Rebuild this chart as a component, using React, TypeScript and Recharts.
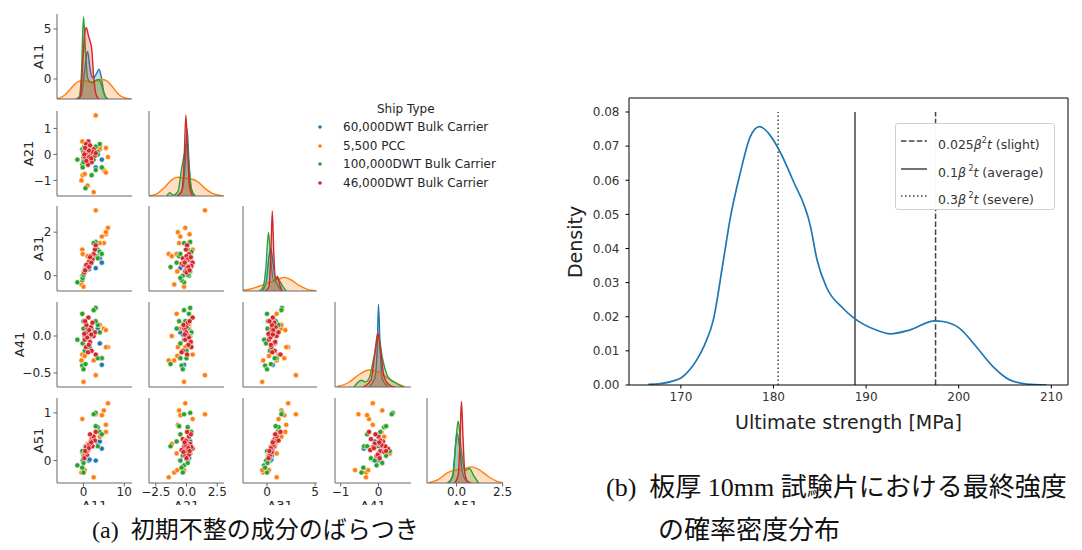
import React from "react";
import { ComposedChart, ScatterChart, LineChart, Scatter, Area, Line, XAxis, YAxis, ReferenceLine } from "recharts";

const FONT = "DejaVu Sans";
const TEXT = "#262626";
const SPINE = "#666";

const shipTypes = ["60,000DWT Bulk Carrier", "5,500 PCC", "100,000DWT Bulk Carrier", "46,000DWT Bulk Carrier"];
const shipColors = ["#1f77b4", "#ff7f0e", "#2ca02c", "#d62728"];
const components = ["A11", "A21", "A31", "A41", "A51"];

// one row per ship: A11, A21, A31, A41, A51
const bulk60k = [
  [1.0, 0.2, 0.4, 0.0, 0.05], [1.3, 0.1, 0.3, -0.02, 0.0], [0.8, -0.3, 0.5, 0.02, 0.1],
  [3.5, 0.2, 0.9, 0.1, 0.35], [4.0, 0.3, 0.8, -0.1, 0.4], [4.5, -0.2, 0.6, -0.39, 0.25],
  [3.0, -0.5, 0.35, 0.05, 0.0], [2.0, 0.1, 0.7, 0.0, 0.3], [1.5, 0.05, 0.45, -0.15, 0.02],
];
const pcc5500 = [
  [3.0, 1.5, 3.0, -0.53, 0.97], [6.0, -0.1, 2.2, -0.15, 1.2], [5.0, -0.6, 1.5, 0.1, 1.05],
  [-0.3, 0.5, 1.2, -0.25, 0.87], [5.5, 0.25, 1.9, 0.08, 0.6], [4.5, -0.5, 1.8, -0.3, 0.95],
  [-0.5, -1.0, -0.4, -0.33, -0.25], [2.5, -1.45, 1.0, -0.33, -0.35], [0.0, -0.2, -0.5, -0.62, -0.2],
  [5.5, -0.7, 2.0, -0.15, 0.75], [-0.2, -0.8, 1.0, 0.3, 0.15], [0.3, -0.75, 0.2, -0.27, -0.2],
  [4.0, 0.2, 1.5, 0.15, 0.5], [1.0, -1.2, 0.9, 0.0, 0.35],
];
const bulk100k = [
  [-1.5, -0.2, -0.3, -0.05, -0.1], [-0.3, 0.2, 0.0, 0.3, 0.2], [0.0, -0.1, 0.1, 0.2, 0.1],
  [3.0, 0.3, 1.55, 0.38, 1.0], [2.5, -0.2, 1.5, 0.35, 0.97], [-0.3, -0.4, -0.2, -0.4, -0.15],
  [0.0, -0.3, 0.0, -0.45, -0.25], [3.5, 0.1, 1.2, 0.15, 0.7], [4.0, 0.4, 1.1, 0.05, 0.6],
  [3.0, -0.6, 0.9, 0.2, 0.72], [4.5, -0.5, 1.0, -0.3, 0.55], [0.3, 0.0, 0.3, -0.2, 0.05],
  [2.0, -0.8, 0.6, 0.1, 0.4], [0.2, 0.3, 0.2, 0.0, 0.15], [-0.2, -0.5, -0.1, -0.1, 0.0],
  [0.5, -1.3, 0.4, -0.38, 0.3], [3.5, 0.0, 0.8, -0.3, 0.3], [0.0, 0.1, 0.05, 0.1, -0.05],
];
const bulk46k = [
  [0.5, 0.1, 0.3, 0.0, 0.15], [1.0, -0.2, 0.5, 0.1, 0.3], [1.5, 0.3, 0.7, -0.1, 0.35],
  [0.8, 0.0, 0.4, 0.05, 0.2], [2.0, -0.3, 0.8, -0.2, 0.45], [1.2, 0.5, 0.6, 0.25, 0.25],
  [0.3, -0.1, 0.2, -0.05, 0.1], [2.5, 0.2, 1.0, 0.0, 0.5], [1.8, 0.0, 0.9, 0.12, 0.4],
  [0.6, 0.4, 0.45, -0.15, 0.28], [1.1, -0.4, 0.55, -0.22, 0.22], [2.2, 0.1, 0.75, 0.18, 0.3],
  [0.9, 0.2, 0.35, -0.02, 0.12], [1.4, -0.1, 0.65, 0.08, 0.33], [0.2, 0.0, 0.15, 0.03, 0.05],
  [1.6, 0.35, 0.85, -0.08, 0.55], [2.8, -0.05, 1.2, 0.05, 0.42], [0.7, -0.25, 0.5, 0.15, 0.18],
  [1.3, 0.15, 0.4, -0.12, 0.26], [1.9, -0.15, 0.6, 0.02, 0.38], [0.4, 0.25, 0.25, 0.2, 0.2],
  [3.0, 0.05, 1.4, -0.25, 0.6],
];
const shipPoints = [bulk60k, pcc5500, bulk100k, bulk46k];

// diagonal KDEs: [value, density as share of panel height], order blue, orange, green, red
const kdeA11 = [
  [[-1.2, 0], [-0.5, 0.05], [0.3, 0.35], [1.0, 0.56], [1.5, 0.4], [2.0, 0.27], [2.5, 0.25], [3.2, 0.3], [3.8, 0.35], [4.4, 0.25], [5.0, 0.08], [5.8, 0]],
  [[-6.5, 0.005], [-6, 0.01], [-4.5, 0.05], [-3, 0.13], [-1.5, 0.2], [0, 0.22], [1.5, 0.2], [3, 0.21], [4.5, 0.23], [5.5, 0.22], [7, 0.15], [8.5, 0.06], [10, 0.015], [11.5, 0]],
  [[-2, 0], [-1.1, 0.02], [-0.5, 0.3], [0, 0.965], [0.5, 0.55], [1.0, 0.25], [1.6, 0.2], [2.2, 0.19], [3.0, 0.22], [3.8, 0.23], [4.5, 0.15], [5.2, 0.04], [6, 0]],
  [[-1.5, 0], [-0.8, 0.03], [-0.2, 0.4], [0.3, 0.78], [0.7, 0.84], [1.2, 0.75], [1.6, 0.68], [2.0, 0.6], [2.5, 0.26], [3.0, 0.07], [3.7, 0]],
];
const kdeA21 = [
  [[-0.7, 0], [-0.3, 0.1], [-0.1, 0.4], [0.05, 0.79], [0.2, 0.4], [0.4, 0.08], [0.7, 0]],
  [[-3.0, 0.005], [-2.5, 0.02], [-1.8, 0.1], [-1.2, 0.19], [-0.7, 0.22], [-0.2, 0.21], [0.4, 0.2], [0.9, 0.17], [1.5, 0.09], [2.1, 0.03], [2.8, 0.005], [3.0, 0]],
  [[-1.6, 0], [-1.35, 0.04], [-1.1, 0.01], [-0.7, 0.05], [-0.4, 0.32], [-0.1, 0.55], [0.05, 0.65], [0.2, 0.35], [0.4, 0.08], [0.7, 0]],
  [[-0.8, 0], [-0.4, 0.05], [-0.2, 0.4], [-0.05, 0.95], [0.1, 0.5], [0.25, 0.1], [0.5, 0]],
];
const kdeA31 = [
  [[-0.5, 0], [-0.1, 0.1], [0.2, 0.4], [0.4, 0.5], [0.6, 0.35], [0.9, 0.12], [1.2, 0.05], [1.6, 0]],
  [[-2.5, 0.005], [-1.5, 0.03], [-0.5, 0.07], [0.5, 0.11], [1.2, 0.14], [1.8, 0.16], [2.5, 0.13], [3.3, 0.07], [4.2, 0.02], [5.0, 0.003]],
  [[-0.8, 0], [-0.4, 0.05], [-0.1, 0.3], [0.15, 0.69], [0.4, 0.35], [0.7, 0.12], [1.0, 0.15], [1.3, 0.12], [1.6, 0.06], [2.0, 0]],
  [[-0.2, 0], [0.2, 0.05], [0.4, 0.45], [0.55, 0.94], [0.7, 0.45], [0.9, 0.15], [1.1, 0.17], [1.3, 0.08], [1.6, 0]],
];
const kdeA41 = [
  [[-0.25, 0], [-0.1, 0.1], [-0.03, 0.5], [0.0, 0.97], [0.04, 0.5], [0.1, 0.1], [0.25, 0]],
  [[-1.1, 0.005], [-0.8, 0.05], [-0.5, 0.15], [-0.25, 0.2], [0.0, 0.18], [0.2, 0.12], [0.45, 0.05], [0.7, 0.005]],
  [[-0.65, 0], [-0.45, 0.08], [-0.35, 0.06], [-0.25, 0.1], [-0.12, 0.35], [0.0, 0.6], [0.1, 0.35], [0.25, 0.12], [0.45, 0.05], [0.65, 0]],
  [[-0.4, 0], [-0.2, 0.08], [-0.08, 0.45], [-0.02, 0.64], [0.05, 0.45], [0.15, 0.12], [0.3, 0.02], [0.45, 0]],
];
const kdeA51 = [
  [[-0.4, 0], [-0.2, 0.1], [-0.05, 0.45], [0.02, 0.59], [0.15, 0.45], [0.3, 0.15], [0.45, 0.05], [0.7, 0]],
  [[-1.5, 0.005], [-1.0, 0.04], [-0.5, 0.12], [-0.1, 0.15], [0.3, 0.16], [0.8, 0.19], [1.2, 0.16], [1.7, 0.08], [2.2, 0.02], [2.5, 0.005]],
  [[-0.5, 0], [-0.2, 0.08], [-0.05, 0.45], [0.09, 0.73], [0.25, 0.4], [0.45, 0.15], [0.7, 0.17], [0.95, 0.08], [1.2, 0]],
  [[-0.1, 0], [0.1, 0.1], [0.2, 0.6], [0.27, 0.96], [0.35, 0.55], [0.45, 0.12], [0.6, 0.02], [0.8, 0]],
];
const diagKdes = [kdeA11, kdeA21, kdeA31, kdeA41, kdeA51];

const colDomains = [[-6.5, 11.9], [-3.05, 3.05], [-2.5, 5.2], [-1.15, 0.86], [-1.6, 2.52]];
const rowDomains = [[-2.0, 6.5], [-1.6, 1.67], [-0.7, 3.2], [-0.69, 0.46], [-0.47, 1.31]];
const colTicks = [[0, 10], [-2.5, 0, 2.5], [0, 5], [-1, 0], [0, 2.5]];
const rowTicks = [[0, 5], [-1, 0, 1], [0, 2], [-0.5, 0], [0, 1]];
const colDecimals = [0, 1, 0, 0, 1];
const rowDecimals = [0, 0, 0, 1, 0];

// right chart: ultimate strength density
const strengthMPa = [166.5, 167.8, 169.2, 170.1, 171.0, 171.7, 172.6, 173.5, 174.6, 175.3, 176.4, 177.5, 178.5, 179.6, 180.4, 182.1, 184.0, 184.7, 185.7, 187.5, 188.7, 191.1, 192.6, 194.7, 197.4, 198.3, 200.1, 201.9, 203.7, 205.5, 207.3, 209.5];
const strengthDensity = [0.0002, 0.0004, 0.0012, 0.0022, 0.0046, 0.0073, 0.012, 0.019, 0.0367, 0.0484, 0.062, 0.0728, 0.0757, 0.0733, 0.0699, 0.06, 0.0464, 0.0367, 0.0288, 0.0225, 0.0196, 0.0161, 0.015, 0.0161, 0.0188, 0.0186, 0.0166, 0.0112, 0.0054, 0.0015, 0.0003, 0.0];
const strengthTicks = [170, 180, 190, 200, 210];
const densityTicks = [0, 0.01, 0.02, 0.03, 0.04, 0.05, 0.06, 0.07, 0.08];
const damageCoef = ["0.025", "0.1", "0.3"];
const damageName = ["slight", "average", "severe"];
const damageStrength = [197.5, 188.8, 180.5];
const damageDash = ["5.5 2.4", undefined, "1.5 2.5"];
const damageTop = 0.08;

const COL_LEFT = [57, 149, 242.5, 334.5, 427];
const COL_W = [75, 75, 74, 76, 76];
const ROW_TOP = [14, 110.5, 205.5, 301.5, 397.5];
const ROW_H = 85;
const GUTTER = 52;
const RIGHT_PAD = 14;
const ROW_LABEL_X = [38, 28, 38, 19, 38];

const fmt = (v: number, d: number) => (v < 0 ? "\u2212" : "") + Math.abs(v).toFixed(d);
const pairXY = (pts: number[][], i: number, j: number) => pts.map((p) => ({ x: p[i], y: p[j] }));
const kdeRows = (pairs: number[][]) => pairs.map(([x, d]) => ({ x, d }));

function PairPanel({ r, c }: { r: number; c: number }) {
  const w = GUTTER + COL_W[c] + RIGHT_PAD;
  const h = ROW_H + 30;
  const bottomRow = r === 4;
  const firstCol = c === 0;
  const margin = { top: 0, right: RIGHT_PAD, bottom: 0, left: 0 };
  const tickStyle = { fill: TEXT, fontSize: 12, fontFamily: FONT };
  const xAxis = (
    <XAxis
      type="number" dataKey="x" domain={colDomains[c]} ticks={colTicks[c]} allowDataOverflow
      height={30} tickSize={3.5} tickMargin={1} stroke={SPINE}
      tick={bottomRow ? tickStyle : false}
      tickFormatter={(v: number) => fmt(v, colDecimals[c])}
      label={bottomRow ? () => (
        <text x={GUTTER + COL_W[c] / 2} y={ROW_H + 22.5} textAnchor="middle" dominantBaseline="central"
          fontSize={13} fontFamily={FONT} fill={TEXT}>{components[c]}</text>
      ) : undefined}
    />
  );
  const yAxis = (
    <YAxis
      yAxisId="v" type="number" dataKey="y" domain={rowDomains[r]} ticks={rowTicks[r]} allowDataOverflow
      width={GUTTER} tickSize={3.5} tickMargin={2} stroke={SPINE}
      tick={firstCol ? tickStyle : false}
      tickFormatter={(v: number) => fmt(v, rowDecimals[r])}
      label={firstCol ? () => {
        const x = ROW_LABEL_X[r] - (COL_LEFT[0] - GUTTER);
        const y = ROW_H / 2;
        return (
          <text x={x} y={y} transform={`rotate(-90, ${x}, ${y})`} textAnchor="middle" dominantBaseline="central"
            fontSize={13} fontFamily={FONT} fill={TEXT}>{components[r]}</text>
        );
      } : undefined}
    />
  );
  return (
    <div style={{ position: "absolute", left: COL_LEFT[c] - GUTTER, top: ROW_TOP[r], width: w, height: ROW_H + 22.5, overflow: "hidden" }}>
      {r === c ? (
        <ComposedChart width={w} height={h} margin={margin}>
          {xAxis}
          {yAxis}
          <YAxis yAxisId="d" orientation="right" type="number" domain={[0, 1]} allowDataOverflow hide />
          {diagKdes[c].map((pairs, k) => (
            <Area key={k} yAxisId="d" data={kdeRows(pairs)} dataKey="d" type="monotone"
              stroke={shipColors[k]} strokeWidth={1.4} fill={shipColors[k]} fillOpacity={0.25}
              dot={false} activeDot={false} isAnimationActive={false} />
          ))}
        </ComposedChart>
      ) : (
        <ScatterChart width={w} height={h} margin={margin}>
          {xAxis}
          {yAxis}
          {shipPoints.map((pts, k) => (
            <Scatter key={k} yAxisId="v" data={pairXY(pts, c, r)} fill={shipColors[k]} isAnimationActive={false}
              shape={(p: any) => <circle cx={p.cx} cy={p.cy} r={2.6} fill={shipColors[k]} stroke="#fff" strokeWidth={0.6} />} />
          ))}
        </ScatterChart>
      )}
    </div>
  );
}

function StrengthChart() {
  const curve = strengthMPa.map((x, i) => ({ x, d: strengthDensity[i] }));
  const xMax = 211.8;
  const yMax = 0.0841;
  return (
    <div style={{ position: "absolute", left: 560, top: 80 }}>
      <LineChart width={522} height={370} margin={{ top: 18, right: 14, left: 0, bottom: 0 }}>
        <XAxis
          type="number" dataKey="x" domain={[164.4, xMax]} ticks={strengthTicks} allowDataOverflow
          height={65} tickSize={3.5} tickMargin={4} stroke="#000"
          tick={{ fill: "#333", fontSize: 12, fontFamily: FONT }}
          label={() => (
            <text x={69 + 439 / 2} y={342} textAnchor="middle" dominantBaseline="central"
              fontSize={19} fontFamily={FONT} fill="#222">Ultimate strength [MPa]</text>
          )}
        />
        <YAxis
          type="number" domain={[0, yMax]} ticks={densityTicks} allowDataOverflow
          width={69} tickSize={3.5} tickMargin={6} stroke="#000"
          tick={{ fill: "#333", fontSize: 12, fontFamily: FONT }}
          tickFormatter={(v: number) => v.toFixed(2)}
          label={() => (
            <text x={15} y={162} transform="rotate(-90, 15, 162)" textAnchor="middle" dominantBaseline="central"
              fontSize={19} fontFamily={FONT} fill="#222">Density</text>
          )}
        />
        <ReferenceLine y={yMax} stroke="#000" strokeWidth={1} />
        <ReferenceLine x={xMax} stroke="#000" strokeWidth={1} />
        {damageStrength.map((s, i) => (
          <ReferenceLine key={i} segment={[{ x: s, y: 0 }, { x: s, y: damageTop }]}
            stroke="#444" strokeWidth={1.5} strokeDasharray={damageDash[i]} />
        ))}
        <Line data={curve} dataKey="d" type="monotone" stroke="#1f77b4" strokeWidth={1.7}
          dot={false} activeDot={false} isAnimationActive={false} />
      </LineChart>
    </div>
  );
}

function ShipLegend() {
  return (
    <div style={{ position: "absolute", left: 300, top: 98, fontFamily: FONT, fontSize: 12, color: TEXT }}>
      <div style={{ position: "absolute", left: 77, top: 0, whiteSpace: "nowrap", lineHeight: "22px" }}>Ship Type</div>
      {shipTypes.map((name, k) => (
        <div key={k} style={{ position: "absolute", left: 0, top: 19 + k * 18.7, whiteSpace: "nowrap", lineHeight: "20px" }}>
          <svg width={40} height={20} style={{ verticalAlign: "top" }}>
            <circle cx={20} cy={10} r={1.8} fill={shipColors[k]} />
          </svg>
          <span style={{ position: "absolute", left: 43, top: 0 }}>{name}</span>
        </div>
      ))}
    </div>
  );
}

function DamageLegend() {
  return (
    <div style={{
      position: "absolute", left: 895, top: 123, width: 160, height: 87, boxSizing: "border-box",
      border: "1px solid #d0d0d0", borderRadius: 3, background: "rgba(255,255,255,0.95)",
      fontFamily: FONT, fontSize: 12.5, color: "#333",
    }}>
      {damageCoef.map((coef, i) => (
        <div key={i} style={{ position: "absolute", left: 4, top: 7 + i * 27.5, height: 20, whiteSpace: "nowrap", lineHeight: "20px" }}>
          <svg width={28} height={20} style={{ position: "absolute", left: 0, top: 0 }}>
            <line x1={1} y1={10} x2={27} y2={10} stroke="#444" strokeWidth={1.5} strokeDasharray={damageDash[i]} />
          </svg>
          <span style={{ position: "absolute", left: 38, top: 0 }}>
            {coef}<i>β</i>{i > 0 ? "\u2009" : ""}<sup style={{ fontSize: 8, verticalAlign: "6px" }}>2</sup><i>t</i> ({damageName[i]})
          </span>
        </div>
      ))}
    </div>
  );
}

const captionFont = "'Liberation Serif', 'Noto Sans CJK JP', serif";

export default function App() {
  const cells: { r: number; c: number }[] = [];
  for (let r = 0; r < 5; r++) for (let c = 0; c <= r; c++) cells.push({ r, c });
  return (
    <div style={{ position: "absolute", left: 0, top: 0, width: 1082, height: 550, background: "#fff", overflow: "hidden" }}>
      {cells.map(({ r, c }) => <PairPanel key={`${r}-${c}`} r={r} c={c} />)}
      <ShipLegend />
      <StrengthChart />
      <DamageLegend />
      <div style={{ position: "absolute", left: 92, top: 515, fontFamily: captionFont, fontSize: 24, lineHeight: "30px", whiteSpace: "nowrap", color: "#111" }}>
        (a)&nbsp; 初期不整の成分のばらつき
      </div>
      <div style={{ position: "absolute", left: 606, top: 473, fontFamily: captionFont, fontSize: 26, lineHeight: "30px", whiteSpace: "nowrap", color: "#111" }}>
        (b)&nbsp; 板厚 10mm 試験片における最終強度
      </div>
      <div style={{ position: "absolute", left: 658, top: 516, fontFamily: captionFont, fontSize: 26, lineHeight: "30px", whiteSpace: "nowrap", color: "#111" }}>
        の確率密度分布
      </div>
    </div>
  );
}
